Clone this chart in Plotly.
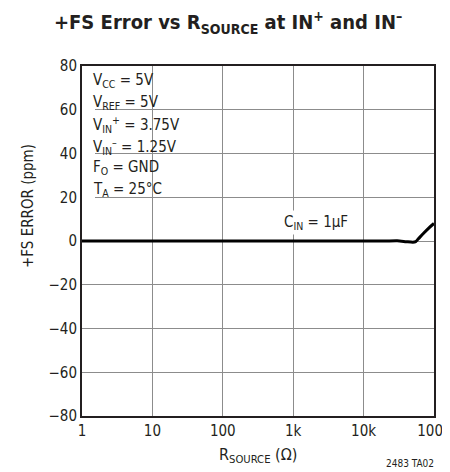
import plotly.graph_objects as go

# Data
r_source = [1, 10, 100, 1000, 10000, 20000, 30000, 40000, 50000, 55000, 60000, 70000, 85000, 100000]
fs_error = [0, 0, 0, 0, 0, 0, 0.1, -0.3, -0.6, -0.3, 1.0, 3.3, 6.0, 8.0]

x_tickvals = [1, 10, 100, 1000, 10000, 100000]
x_ticktext = ["1", "10", "100", "1k", "10k", "100k"]
y_tickvals = [-80, -60, -40, -20, 0, 20, 40, 60, 80]

cond_lines = [
    "V<sub>CC</sub> = 5V",
    "V<sub>REF</sub> = 5V",
    "V<sub>IN</sub><sup>+</sup> = 3.75V",
    "V<sub>IN</sub><sup>–</sup> = 1.25V",
    "F<sub>O</sub> = GND",
    "T<sub>A</sub> = 25°C",
]

FONT = "Liberation Sans Narrow, DejaVu Sans Condensed, Arial Narrow, sans-serif"

# page has an 8px body margin; plot area in window: x 82..434, y 66..416
W, H = 442, 464
L, T = 74, 58
PW, PH = 352, 350
R = W - L - PW
B = H - T - PH


def px(xw):
    return (xw - 82) / PW


def py(yw):
    return (416 - yw) / PH


fig = go.Figure()
fig.add_trace(go.Scatter(
    x=r_source, y=fs_error, mode="lines",
    line=dict(color="black", width=3, shape="spline", smoothing=0.6),
    hoverinfo="skip", showlegend=False,
))

fig.update_layout(
    width=W, height=H,
    margin=dict(l=L, r=R, t=T, b=B, autoexpand=False),
    paper_bgcolor="white", plot_bgcolor="white",
    font=dict(family=FONT, color="#231f20", size=15),
    showlegend=False,
    xaxis=dict(
        type="log", range=[0, 5],
        tickvals=x_tickvals, ticktext=x_ticktext,
        showgrid=True, gridcolor="#8c8c8c", gridwidth=1,
        showline=True, linecolor="#231f20", linewidth=2, mirror=True,
        ticks="", tickfont=dict(size=15, family=FONT),
        ticklabeloverflow="allow", automargin=False,
        zeroline=False,
    ),
    yaxis=dict(
        range=[-80, 80], tickvals=y_tickvals,
        showgrid=True, gridcolor="#8c8c8c", gridwidth=1,
        showline=True, linecolor="#231f20", linewidth=2, mirror=True,
        ticks="", tickfont=dict(size=15, family=FONT),
        automargin=False,
        zeroline=False,
    ),
)

# white box behind conditions
fig.add_shape(type="rect", xref="x", yref="y", x0=0, x1=1.53, y0=17.5, y1=80,
              fillcolor="white", line=dict(width=0), layer="between")

ys = [73.2, 63.2, 53.2, 43.4, 33.4, 23.4]
for txt, yv in zip(cond_lines, ys):
    fig.add_annotation(x=0.13, y=yv, xref="x", yref="y", text=txt, showarrow=False,
                       xanchor="left", yanchor="middle", font=dict(size=15, family=FONT))

fig.add_annotation(x=3.33, y=8.5, xref="x", yref="y", text="C<sub>IN</sub> = 1µF",
                   showarrow=False, bgcolor="white", borderpad=2,
                   font=dict(size=15, family=FONT))

# title
fig.add_annotation(x=px(228), y=py(22), xref="paper", yref="paper",
                   text="<b>+FS Error vs R<sub>SOURCE</sub> at IN<sup>+</sup> and IN<sup>–</sup></b>",
                   showarrow=False, xanchor="center", yanchor="middle",
                   font=dict(size=20, family=FONT))
# y title
fig.add_annotation(x=px(28), y=py(206), xref="paper", yref="paper",
                   text="+FS ERROR (ppm)", textangle=-90, showarrow=False,
                   xanchor="center", yanchor="middle", font=dict(size=15, family=FONT))
# x title
fig.add_annotation(x=px(258), y=py(455), xref="paper", yref="paper",
                   text="R<sub>SOURCE</sub> (Ω)", showarrow=False,
                   xanchor="center", yanchor="middle", font=dict(size=16, family=FONT))
# code
fig.add_annotation(x=px(410), y=py(463), xref="paper", yref="paper",
                   text="2483 TA02", showarrow=False,
                   xanchor="center", yanchor="middle", font=dict(size=10, family=FONT))

fig.write_html("out.html")
